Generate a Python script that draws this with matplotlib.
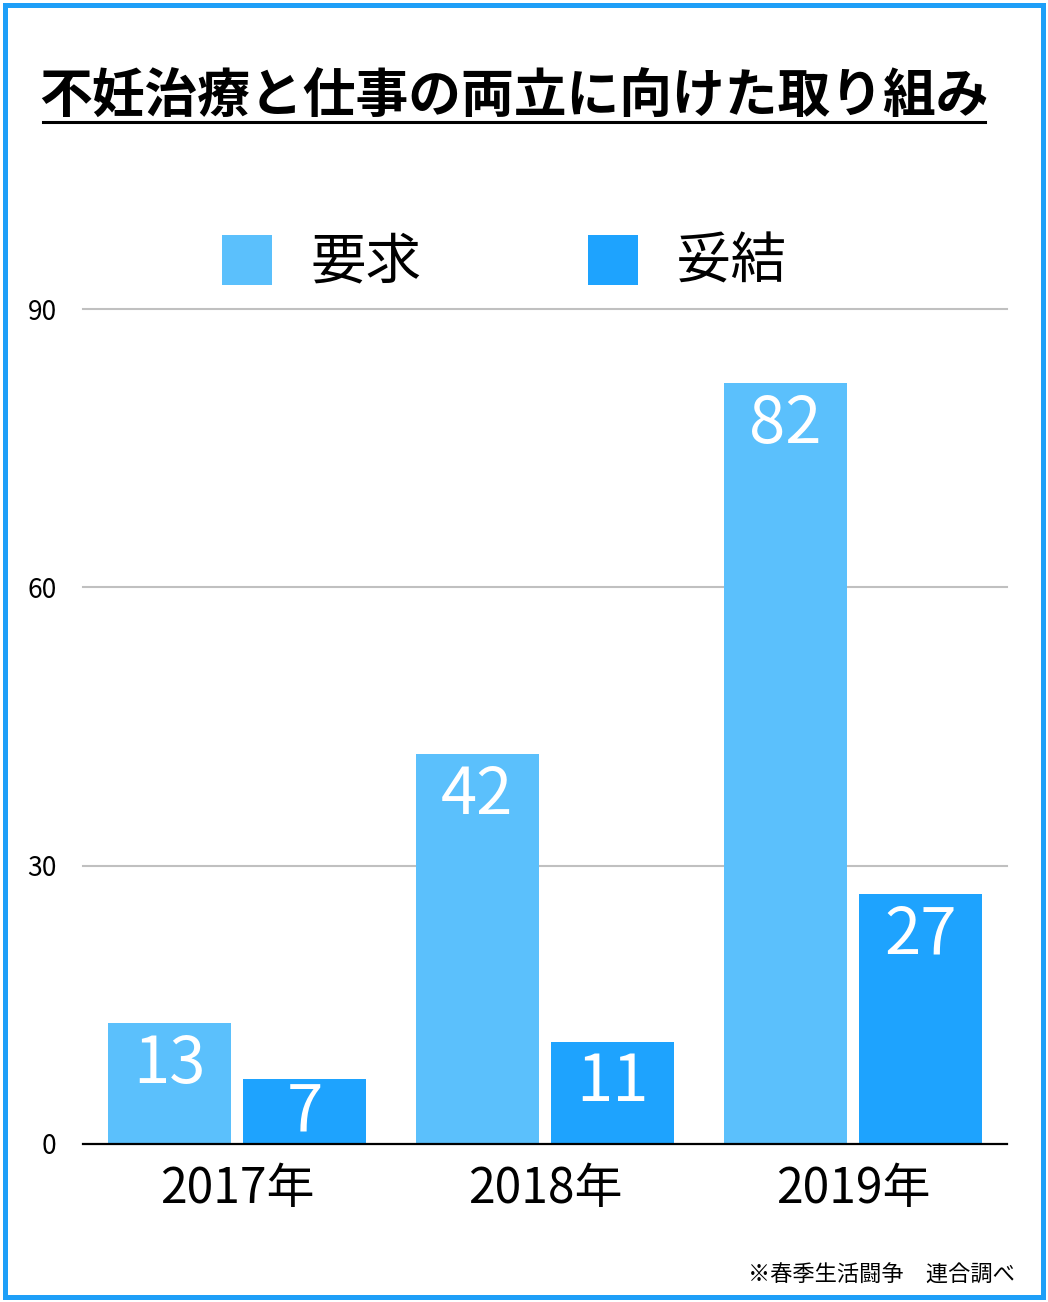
import matplotlib.pyplot as plt
import numpy as np
from matplotlib.patches import Rectangle, Patch
from matplotlib.lines import Line2D

plt.rcParams['font.family'] = ['Noto Sans CJK JP', 'DejaVu Sans']

# data
years = ['2017年', '2018年', '2019年']
demand = [13, 42, 82]      # 要求
settled = [7, 11, 27]      # 妥結
series_names = ['要求', '妥結']
yticks = [0, 30, 60, 90]

light = '#5bc0fc'
dark = '#1ea3fe'

W, H = 1048, 1302
fig = plt.figure(figsize=(W / 100, H / 100), dpi=100)
ax = fig.add_axes([83 / W, 1 - 1144 / H, 924 / W, (1144 - 309) / H])

x = np.arange(len(years))
off = 0.22
bw = 0.4
b1 = ax.bar(x - off, demand, bw, color=light, zorder=3)
b2 = ax.bar(x + off, settled, bw, color=dark, zorder=3)

# value labels inside the top of each bar
px_per_unit = (1144 - 309) / 90
for bars, vals in ((b1, demand), (b2, settled)):
    for rect, v in zip(bars, vals):
        top_px = v * px_per_unit
        # keep the label inside short bars
        shift = min(8, max(0, top_px - 64))
        ax.annotate(str(v), (rect.get_x() + rect.get_width() / 2, v),
                    xytext=(0, -shift * 0.72), textcoords='offset points',
                    ha='center', va='top', color='white', fontsize=47, zorder=4)

ax.set_xlim(-0.5, 2.5)
ax.set_ylim(0, 90)
ax.set_yticks(yticks)
ax.set_yticklabels([str(t) for t in yticks], fontsize=19)
ax.set_xticks(x)
ax.set_xticklabels(years, fontsize=34.5)
ax.tick_params(axis='y', length=0, pad=19)
ax.tick_params(axis='x', length=0, pad=15)
for s in ax.spines.values():
    s.set_visible(False)
ax.axhline(0, color='black', linewidth=1.6, zorder=5, clip_on=False)
for gy in yticks[1:]:
    ax.axhline(gy, color='#c0c0c0', linewidth=1.5, zorder=0, clip_on=False)

# legend
handles = [Patch(facecolor=light), Patch(facecolor=dark)]
fig.legend(handles, series_names, loc='center', ncol=2,
           bbox_to_anchor=(504.5 / W, 1 - 263 / H), frameon=False,
           fontsize=40, handlelength=0.9, handleheight=1.0,
           handletextpad=0.68, columnspacing=3.0, borderpad=0)

# title with underline
fig.text(514 / W, 1 - 97 / H, '不妊治療と仕事の両立に向けた取り組み',
         ha='center', va='center', fontsize=38, fontweight='bold')
fig.add_artist(Line2D([43 / W, 985 / W], [1 - 122 / H, 1 - 122 / H],
                      color='black', linewidth=2.2, transform=fig.transFigure))

# footnote
fig.text(1015 / W, 1 - 1275 / H, '※春季生活闘争　連合調べ',
         ha='right', va='center', fontsize=16)

# outer frame
fig.add_artist(Rectangle((5 / W, 5 / H), 1038 / W, 1292 / H, fill=False,
                         edgecolor='#1e9ff8', linewidth=3.6,
                         transform=fig.transFigure))

fig.savefig('out.png', dpi=100)
